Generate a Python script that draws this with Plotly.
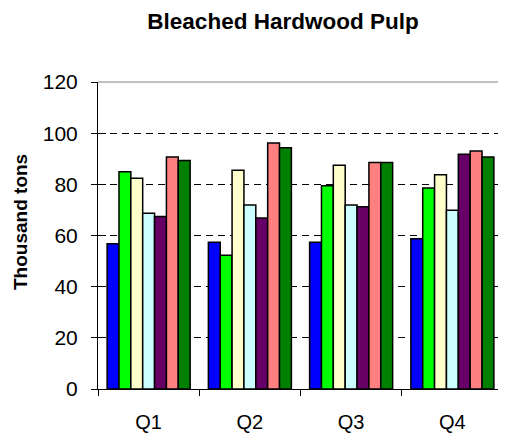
import plotly.graph_objects as go

# quarterly values, thousand tons
quarters = ["Q1", "Q2", "Q3", "Q4"]
series_names = ["Series 1", "Series 2", "Series 3", "Series 4", "Series 5", "Series 6", "Series 7"]
s1 = [56.8, 57.4, 57.4, 58.7]
s2 = [84.9, 52.3, 79.4, 78.6]
s3 = [82.4, 85.5, 87.5, 83.7]
s4 = [68.7, 71.9, 71.9, 69.9]
s5 = [67.4, 66.8, 71.2, 91.8]
s6 = [90.7, 96.2, 88.5, 93.0]
s7 = [89.3, 94.3, 88.5, 90.7]
y_ticks = [0, 20, 40, 60, 80, 100, 120]

colors = ["#0000FF", "#00FF00", "#FFFFCC", "#CCFFFF", "#660066", "#FF8080", "#008000"]
FONT = "Arial, Liberation Sans, sans-serif"

# page body has an 8px margin, so the figure is laid out 8px up/left
fig = go.Figure()
for name, vals, c in zip(series_names, [s1, s2, s3, s4, s5, s6, s7], colors):
    fig.add_trace(go.Bar(x=quarters, y=vals, name=name, marker_color=c,
                         marker_line_color="black", marker_line_width=1.5))

# dummy trace so the overlay axis (inner half of the crossing ticks) is drawn
fig.add_trace(go.Scatter(x=quarters, y=[0] * 4, yaxis="y2", mode="none",
                         showlegend=False, hoverinfo="skip"))

fig.update_layout(
    width=506, height=437,
    margin=dict(l=90, r=11, t=74, b=56),
    plot_bgcolor="white", paper_bgcolor="white",
    showlegend=False,
    barmode="group", bargap=0.18, bargroupgap=0,
    font=dict(family=FONT, color="black"),
    title=dict(text="<b>Bleached Hardwood Pulp</b>", font=dict(size=22.5),
               x=275 / 506, xanchor="center", xref="container",
               y=1 - 13 / 437, yanchor="middle"),
    xaxis=dict(showline=True, linecolor="black", linewidth=1, automargin=False,
               ticks="outside", ticklen=6, tickcolor="black", tickson="boundaries",
               tickfont=dict(size=20), showgrid=False, ticklabelstandoff=15),
    yaxis=dict(range=[0, 120], tickvals=y_ticks, showline=True, linecolor="black",
               linewidth=1, ticks="outside", ticklen=6, tickcolor="black",
               tickfont=dict(size=21), showgrid=True, gridcolor="black",
               griddash="7px,5px", gridwidth=1, zeroline=False,
               ticklabelstandoff=9, automargin=False),
    yaxis2=dict(range=[0, 120], tickvals=y_ticks, overlaying="y", side="left",
                ticks="inside", ticklen=8, tickcolor="black", automargin=False,
                showticklabels=False, showgrid=False, zeroline=False, showline=False),
    annotations=[dict(text="<b>Thousand tons</b>", textangle=-90,
                      xref="paper", yref="paper", x=(12 - 90) / 405, y=(381 - 214) / 307,
                      xanchor="center", yanchor="middle", showarrow=False,
                      font=dict(size=19))],
    shapes=[dict(type="line", xref="paper", yref="paper", x0=0, x1=1, y0=1, y1=1,
                 line=dict(color="#808080", width=1), layer="above"),
            dict(type="line", xref="paper", yref="paper", x0=1, x1=1, y0=0, y1=1,
                 line=dict(color="#808080", width=1), layer="above")],
)

fig.write_html("out.html")
